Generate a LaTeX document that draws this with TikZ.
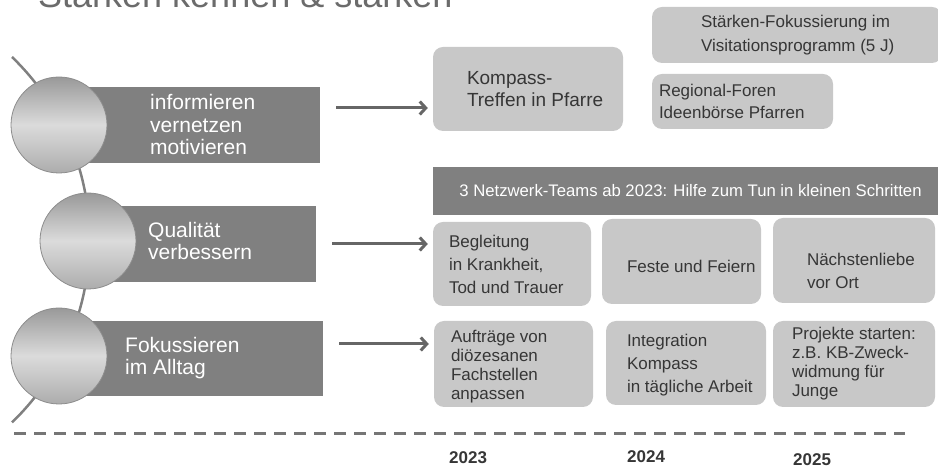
\documentclass[tikz,border=0pt]{standalone}
\usepackage{fontspec}
\setmainfont{Liberation Sans}
\usetikzlibrary{arrows.meta}
\definecolor{boxgray}{HTML}{C8C8C8}
\definecolor{bargray}{HTML}{808080}
\definecolor{txtgray}{HTML}{363636}
\definecolor{arrgray}{HTML}{666666}
\definecolor{titlegray}{HTML}{6B6B6B}
\begin{document}
\begin{tikzpicture}[x=1pt, y=1pt,
    lightbox/.style={fill=boxgray, rounded corners=10pt, inner sep=0},
    darkbar/.style={fill=bargray, inner sep=0},
    ball/.style={circle, minimum size=96pt, draw=gray!90, line width=0.8pt, top color=gray!80, bottom color=gray!65, middle color=gray!28},
    boxtext/.style={anchor=west, align=left, inner sep=0, text=txtgray, font=\fontsize{17}{23}\selectfont},
    bartext/.style={anchor=west, align=left, inner sep=0, text=white, font=\fontsize{21}{22.5}\selectfont},
    yeartext/.style={anchor=west, inner sep=0, text=txtgray, font=\fontsize{17}{20}\selectfont\bfseries},
    arr/.style={draw=arrgray, line width=3pt, -{Straight Barb[length=6pt, width=13pt]}, shorten <=16pt, shorten >=5pt}]
    \useasboundingbox (0,0) rectangle (938,468);
    \clip (0,0) rectangle (938,468);

    \node[anchor=base west, inner sep=0, text=titlegray, font=\fontsize{36}{40}\selectfont] (title) at (38,460) {Stärken kennen \& stärken};

    \draw[bargray, line width=2.5pt] (12,411) arc[start angle=46, end angle=-46, radius=254];

    \node[darkbar, minimum width=261, minimum height=76] (info) at (189.5,343) {};
    \node[darkbar, minimum width=229, minimum height=76] (qual) at (201.5,224) {};
    \node[darkbar, minimum width=264, minimum height=75] (fokus) at (191,109.5) {};

    \node[ball] (c1) at (59,343) {};
    \node[ball] (c2) at (88,227) {};
    \node[ball] (c3) at (59,112) {};

    \node[bartext] (infotxt) at (150,343) {informieren\\vernetzen\\motivieren};
    \node[bartext] (qualtxt) at (148,227) {Qualität\\verbessern};
    \node[bartext] (fokustxt) at (125,110) {Fokussieren\\im Alltag};

    \node[lightbox, minimum width=190, minimum height=84] (kompass) at (528,379) {};
    \node[boxtext, font=\fontsize{19}{22}\selectfont] (kompasstxt) at ([xshift=34]kompass.west) {Kompass-\\Treffen in Pfarre};
    \node[lightbox, minimum width=290, minimum height=56] (visit) at (797,433) {};
    \node[boxtext, font=\fontsize{17}{24}\selectfont] (visittxt) at ([xshift=49]visit.west) {Stärken-Fokussierung im\\Visitationsprogramm (5 J)};
    \node[lightbox, minimum width=181, minimum height=55] (foren) at (742.5,366.5) {};
    \node[boxtext, font=\fontsize{17}{22}\selectfont] (forentxt) at ([xshift=7]foren.west) {Regional-Foren\\Ideenbörse Pfarren};

    \node[darkbar, minimum width=515, minimum height=48, text=white, font=\fontsize{16.7}{20}\selectfont] (netz) at (690.5,277) {3 Netzwerk-Teams ab 2023: Hilfe zum Tun in kleinen Schritten};

    \node[lightbox, minimum width=158, minimum height=84] (begl) at (512,204) {};
    \node[boxtext] (begltxt) at ([xshift=16]begl.west) {Begleitung\\in Krankheit,\\Tod und Trauer};
    \node[lightbox, minimum width=159, minimum height=85] (feste) at (681.5,206.5) {};
    \node[boxtext] (festetxt) at ([xshift=25, yshift=-5]feste.west) {Feste und Feiern};
    \node[lightbox, minimum width=162, minimum height=85] (naechst) at (854,207.5) {};
    \node[boxtext] (naechsttxt) at ([xshift=34, yshift=-10]naechst.west) {Nächstenliebe\\vor Ort};

    \node[lightbox, minimum width=159, minimum height=86] (auftr) at (513.5,104) {};
    \node[boxtext, font=\fontsize{17}{19}\selectfont] (auftrtxt) at ([xshift=17, yshift=-3]auftr.west) {Aufträge von\\diözesanen\\Fachstellen\\anpassen};
    \node[lightbox, minimum width=160, minimum height=84] (integr) at (686,105) {};
    \node[boxtext] (integrtxt) at ([xshift=21, yshift=-2]integr.west) {Integration\\Kompass\\in tägliche Arbeit};
    \node[lightbox, minimum width=162, minimum height=86] (projekt) at (854,104) {};
    \node[boxtext, font=\fontsize{17}{19}\selectfont] (projekttxt) at ([xshift=19]projekt.west) {Projekte starten:\\z.B. KB-Zweck-\\widmung für\\Junge};

    \draw[arr] ([yshift=17]info.east) -- ([yshift=17]info.east -| kompass.west);
    \draw[arr] (qual.east) -- (qual.east -| begl.west);
    \draw[arr] ([yshift=14.5]fokus.east) -- ([yshift=14.5]fokus.east -| auftr.west);

    \coordinate (t0) at (14,34);
    \coordinate (t1) at (905,34);
    \draw[arrgray!90, line width=3pt, dash pattern=on 12pt off 8pt] (t0) -- (t1);

    \node[yeartext] (y23) at (449,10) {2023};
    \node[yeartext] (y24) at (627,11) {2024};
    \node[yeartext] (y25) at (793,8) {2025};
\end{tikzpicture}
\end{document}
